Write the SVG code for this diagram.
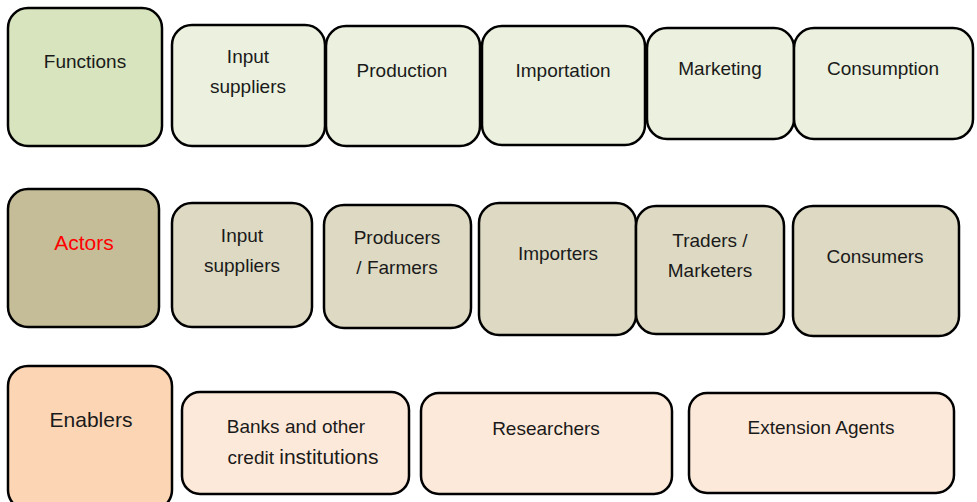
<svg xmlns="http://www.w3.org/2000/svg" width="977" height="502" viewBox="0 0 977 502">
<style>
rect{stroke:#000;stroke-width:2.5}
text{font-family:"Liberation Sans",Arial,sans-serif;font-size:19px;fill:#1a1a1a;text-anchor:middle}
.f1{fill:#d7e4bd}.f2{fill:#ebf1de}
.a1{fill:#c4bd97}.a2{fill:#ddd9c3}
.e1{fill:#fcd5b5}.e2{fill:#fde9d9}
.big{font-size:21px}
</style>
<rect width="977" height="502" fill="#fff" style="stroke:none"/>
<g id="connectors"/>
<g id="functions"><rect class="f1" x="8" y="8" width="154" height="138" rx="20"/><text x="85" y="68">Functions</text></g>
<g id="f-input"><rect class="f2" x="172" y="25" width="153" height="121" rx="20"/><text x="248" y="63">Input</text><text x="248" y="93">suppliers</text></g>
<g id="f-production"><rect class="f2" x="326" y="26" width="154" height="120" rx="20"/><text x="402" y="77">Production</text></g>
<g id="f-importation"><rect class="f2" x="482" y="26" width="163" height="119" rx="20"/><text x="563" y="77">Importation</text></g>
<g id="f-marketing"><rect class="f2" x="647" y="28" width="147" height="111" rx="20"/><text x="720" y="75">Marketing</text></g>
<g id="f-consumption"><rect class="f2" x="794" y="28" width="179" height="111" rx="20"/><text x="883" y="75">Consumption</text></g>

<g id="actors"><rect class="a1" x="8" y="189" width="151" height="138" rx="20"/><text class="big" x="84" y="250" style="fill:#ff0000">Actors</text></g>
<g id="a-input"><rect class="a2" x="172" y="203" width="140" height="124" rx="20"/><text x="242" y="242">Input</text><text x="242" y="272">suppliers</text></g>
<g id="a-producers"><rect class="a2" x="324" y="205" width="147" height="123" rx="20"/><text x="397" y="244">Producers</text><text x="397" y="274">/ Farmers</text></g>
<g id="a-importers"><rect class="a2" x="479" y="203" width="157" height="132" rx="20"/><text x="558" y="260">Importers</text></g>
<g id="a-traders"><rect class="a2" x="636" y="206" width="148" height="128" rx="20"/><text x="710" y="247">Traders /</text><text x="710" y="277">Marketers</text></g>
<g id="a-consumers"><rect class="a2" x="793" y="206" width="166" height="130" rx="20"/><text x="875" y="263">Consumers</text></g>

<g id="enablers"><rect class="e1" x="8" y="366" width="164" height="144" rx="20"/><text class="big" x="91" y="427">Enablers</text></g>
<g id="e-banks"><rect class="e2" x="182" y="392" width="227" height="102" rx="18"/><text x="296" y="433">Banks and other</text><text x="303" y="464"><tspan>credit </tspan><tspan class="big">institutions</tspan></text></g>
<g id="e-researchers"><rect class="e2" x="421" y="393" width="251" height="101" rx="18"/><text x="546" y="435">Researchers</text></g>
<g id="e-extension"><rect class="e2" x="689" y="393" width="265" height="100" rx="18"/><text x="821" y="434">Extension Agents</text></g>
</svg>
